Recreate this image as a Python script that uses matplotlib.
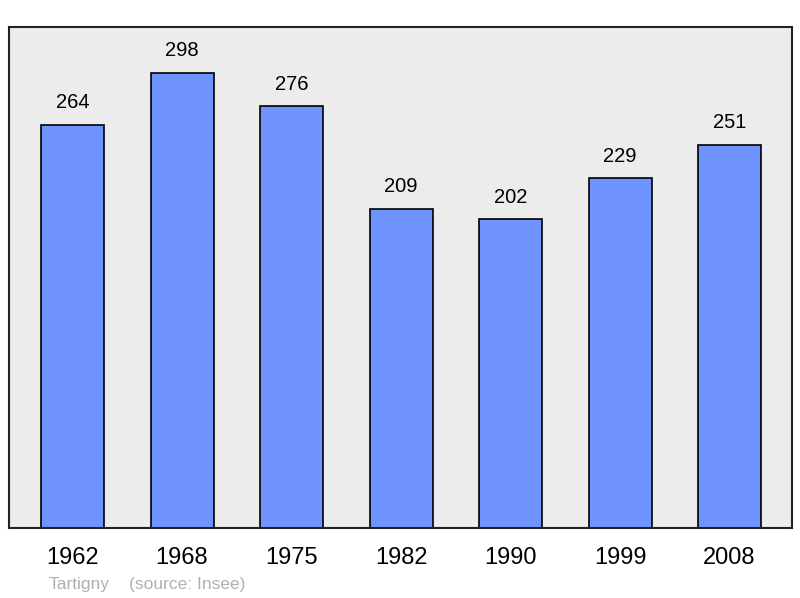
import matplotlib.pyplot as plt

years = ["1962", "1968", "1975", "1982", "1990", "1999", "2008"]
population = [264, 298, 276, 209, 202, 229, 251]
commune = "Tartigny"
source = "(source: Insee)"

plt.rcParams['font.family'] = ['Liberation Sans', 'DejaVu Sans']

fig = plt.figure(figsize=(8, 5.98), dpi=100)
ax = fig.add_axes([9/800, 1-528/598, 783/800, 501/598])
ax.set_facecolor("#ececec")

x = range(len(years))
ax.bar(x, population, width=0.575, color="#7094ff", edgecolor="black", linewidth=1.2, zorder=2)
for i, v in zip(x, population):
    ax.annotate(str(v), (i, v), xytext=(0, 9), textcoords="offset points",
                ha="center", va="bottom", fontsize=14.5, color="black")

ax.set_xlim(-0.58, len(years) - 1 + 0.57)
ax.set_ylim(0, 328)
ax.set_yticks([])
ax.set_xticks(list(x))
ax.set_xticklabels(years, fontsize=17)
ax.tick_params(axis="x", length=0, pad=14)
for s in ax.spines.values():
    s.set_linewidth(1.5)
    s.set_color("#222222")

fig.text(49/800, 1-584/598, commune, fontsize=12.5, color="#b0b0b0", va="center")
fig.text(129/800, 1-584/598, source, fontsize=12.5, color="#b0b0b0", va="center")

plt.savefig("out.png", dpi=100)
